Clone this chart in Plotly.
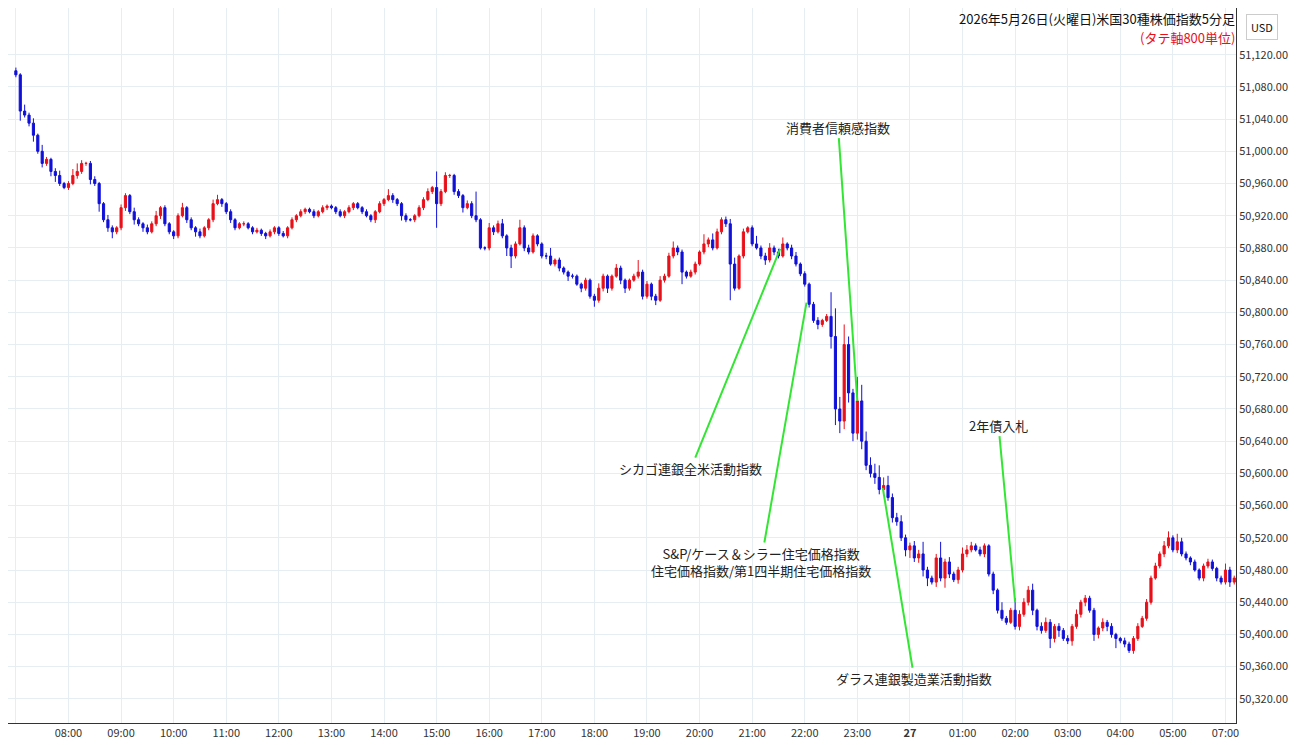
import plotly.graph_objects as go
import pandas as pd

# 5-minute closes, one row per hour (26 May 07:00 -> 27 May 07:10, 06:00-07:00 break)
closes = [
    51095, 51050, 51045, 51035, 51020, 51000, 50985, 50990, 50975, 50970, 50960, 50955,  # 07
    50960, 50970, 50975, 50985, 50985, 50965, 50960, 50935, 50915, 50905, 50900, 50905,  # 08
    50930, 50945, 50925, 50915, 50910, 50905, 50900, 50910, 50920, 50930, 50910, 50900,  # 09
    50895, 50920, 50930, 50915, 50905, 50900, 50895, 50905, 50915, 50935, 50940, 50935,  # 10
    50925, 50915, 50905, 50910, 50910, 50905, 50900, 50902, 50898, 50895, 50900, 50905,  # 11
    50898, 50895, 50905, 50915, 50920, 50925, 50928, 50925, 50920, 50925, 50930, 50932,  # 12
    50930, 50925, 50920, 50925, 50930, 50935, 50930, 50925, 50920, 50915, 50925, 50935,  # 13
    50940, 50945, 50940, 50935, 50920, 50915, 50915, 50920, 50930, 50940, 50950, 50955,  # 14
    50935, 50950, 50970, 50970, 50950, 50945, 50930, 50935, 50920, 50915, 50880, 50880,  # 15
    50905, 50900, 50910, 50895, 50880, 50870, 50885, 50905, 50880, 50875, 50895, 50885,  # 16
    50870, 50870, 50860, 50865, 50855, 50850, 50845, 50845, 50835, 50830, 50840, 50820,  # 17
    50815, 50830, 50845, 50830, 50845, 50855, 50840, 50830, 50840, 50845, 50850, 50820,  # 18
    50835, 50820, 50815, 50840, 50845, 50870, 50880, 50875, 50850, 50845, 50850, 50860,  # 19
    50875, 50885, 50890, 50880, 50900, 50915, 50910, 50860, 50830, 50870, 50900, 50905,  # 20
    50885, 50880, 50870, 50865, 50880, 50875, 50870, 50885, 50880, 50870, 50860, 50848,  # 21
    50835, 50810, 50790, 50785, 50790, 50795, 50770, 50680, 50665, 50760, 50700, 50650,  # 22
    50690, 50640, 50610, 50600, 50595, 50580, 50585, 50570, 50545, 50540, 50520, 50505,  # 23
    50510, 50495, 50500, 50480, 50470, 50465, 50495, 50470, 50490, 50475, 50468, 50480,  # 00
    50500, 50505, 50510, 50505, 50500, 50510, 50475, 50455, 50430, 50420, 50415, 50430,  # 01
    50410, 50425, 50440, 50455, 50430, 50410, 50405, 50415, 50395, 50410, 50405, 50395,  # 02
    50392, 50410, 50425, 50440, 50445, 50430, 50400, 50408, 50415, 50410, 50400, 50395,  # 03
    50392, 50388, 50380, 50395, 50410, 50420, 50440, 50470, 50485, 50500, 50510, 50520,  # 04
    50505, 50515, 50500, 50495, 50490, 50480, 50470, 50485, 50490, 50482, 50470, 50465,  # 05
    50480, 50465, 50470,  # 07
]
first_open = 51100

# wick lengths above / below the body, read per candle
up_wick = [
    4, 2, 8, 3, 6, 2, 8, 3, 2, 4, 6, 2,
    3, 8, 10, 4, 2, 3, 4, 2, 2, 6, 3, 2,
    4, 3, 2, 5, 3, 2, 4, 3, 6, 2, 3, 2,
    2, 3, 6, 2, 3, 2, 4, 2, 2, 5, 6, 2,
    2, 3, 2, 2, 3, 2, 2, 3, 2, 2, 3, 2,
    2, 3, 2, 3, 2, 3, 2, 2, 3, 2, 3, 2,
    2, 2, 3, 2, 3, 2, 2, 2, 3, 2, 2, 3,
    2, 8, 3, 2, 2, 3, 2, 2, 3, 3, 4, 2,
    20, 3, 4, 2, 2, 3, 2, 4, 3, 30, 2, 2,
    6, 3, 4, 6, 2, 4, 3, 10, 3, 4, 3, 2,
    2, 4, 10, 2, 3, 2, 2, 3, 2, 2, 3, 2,
    3, 6, 3, 2, 2, 5, 3, 2, 2, 3, 15, 3,
    4, 2, 3, 5, 3, 4, 8, 3, 3, 2, 3, 3,
    2, 12, 3, 8, 4, 3, 4, 6, 8, 2, 4, 2,
    3, 10, 3, 4, 6, 3, 4, 8, 2, 4, 5, 2,
    3, 2, 3, 4, 2, 3, 30, 35, 15, 25, 10, 5,
    30, 20, 12, 10, 12, 15, 10, 12, 5, 6, 8, 4,
    4, 6, 5, 15, 4, 3, 5, 20, 4, 6, 3, 4,
    8, 6, 5, 3, 4, 3, 2, 3, 2, 10, 3, 3,
    15, 5, 5, 5, 8, 2, 5, 6, 4, 3, 4, 3,
    4, 3, 6, 3, 4, 3, 3, 2, 5, 3, 4, 2,
    2, 4, 3, 3, 4, 3, 4, 3, 4, 3, 6, 8,
    3, 10, 5, 3, 2, 3, 2, 3, 4, 3, 2, 3,
    8, 4, 3,
]
down_wick = [
    3, 12, 3, 4, 8, 3, 5, 3, 6, 8, 3, 2,
    3, 2, 4, 3, 3, 6, 3, 10, 3, 5, 8, 3,
    3, 4, 3, 6, 3, 5, 3, 2, 3, 4, 3, 3,
    4, 3, 2, 4, 3, 6, 3, 2, 3, 3, 2, 4,
    3, 4, 3, 2, 3, 2, 3, 2, 3, 4, 2, 3,
    3, 2, 3, 2, 3, 2, 3, 2, 3, 2, 2, 3,
    2, 3, 2, 3, 2, 3, 2, 3, 2, 3, 4, 2,
    3, 2, 4, 3, 6, 3, 2, 3, 2, 3, 2, 3,
    30, 3, 2, 3, 4, 3, 6, 2, 3, 3, 2, 3,
    3, 4, 2, 3, 10, 15, 3, 2, 4, 3, 2, 3,
    3, 4, 2, 3, 4, 3, 6, 3, 2, 5, 3, 3,
    8, 3, 4, 6, 3, 2, 5, 6, 3, 2, 3, 4,
    3, 5, 6, 2, 3, 2, 3, 4, 15, 3, 2, 3,
    2, 3, 4, 3, 2, 3, 4, 45, 3, 2, 3, 2,
    3, 2, 4, 6, 3, 4, 3, 2, 3, 4, 3, 3,
    3, 4, 3, 6, 3, 2, 15, 20, 15, 10, 12, 10,
    8, 10, 6, 5, 8, 6, 5, 4, 6, 5, 4, 8,
    10, 5, 6, 8, 10, 3, 6, 4, 12, 5, 3, 5,
    3, 4, 3, 2, 3, 4, 3, 5, 4, 3, 3, 2,
    4, 5, 3, 4, 6, 5, 4, 3, 12, 5, 8, 3,
    4, 6, 3, 4, 5, 3, 8, 5, 4, 6, 4, 12,
    3, 4, 3, 4, 3, 2, 3, 3, 2, 3, 4, 3,
    3, 4, 3, 3, 4, 2, 3, 4, 3, 3, 4, 3,
    3, 6, 3,
]

times = list(pd.date_range("2026-05-26 07:00", "2026-05-27 05:55", freq="5min")) + \
        list(pd.date_range("2026-05-27 07:00", periods=3, freq="5min"))
opens = [first_open] + closes[:-1]
highs = [max(o, c) + u for o, c, u in zip(opens, closes, up_wick)]
lows = [min(o, c) - d for o, c, d in zip(opens, closes, down_wick)]

# event markers: (text, tip time, tip value, text time, text value)
events = [
    ("消費者信頼感指数", "2026-05-26 23:00", 50690, "2026-05-26 22:38", 51030),
    ("シカゴ連銀全米活動指数", "2026-05-26 21:32", 50879, "2026-05-26 19:50", 50606),
    ("S&P/ケース＆シラー住宅価格指数<br>住宅価格指数/第1四半期住宅価格指数",
     "2026-05-26 22:02", 50812, "2026-05-26 21:10", 50490),
    ("ダラス連銀製造業活動指数", "2026-05-26 23:29", 50582, "2026-05-27 00:05", 50345),
    ("2年債入札", "2026-05-27 02:00", 50440, "2026-05-27 01:41", 50660),
]

tick_times = list(pd.date_range("2026-05-26 07:00", "2026-05-27 05:00", freq="1h")) + \
             [pd.Timestamp("2026-05-27 07:00")]
tick_text = ["<b>27</b>" if t.hour == 0 else t.strftime("%H:%M") for t in tick_times]
y_ticks = list(range(50320, 51121, 40))

fig = go.Figure(go.Candlestick(
    x=times, open=opens, high=highs, low=lows, close=closes,
    increasing=dict(line=dict(color="#e8101a", width=1), fillcolor="#e8101a"),
    decreasing=dict(line=dict(color="#1010d8", width=1), fillcolor="#1010d8"),
    whiskerwidth=0, showlegend=False,
))

for text, tx, tv, ax, av in events:
    fig.add_annotation(
        x=tx, y=tv, ax=ax, ay=av, axref="x", ayref="y", text=text,
        showarrow=True, arrowhead=0, arrowwidth=2, arrowcolor="#33e633",
        font=dict(size=13, color="#222"), bgcolor="rgba(255,255,255,0)",
    )

fig.add_annotation(x=1, y=1, xref="paper", yref="paper", xanchor="right", yanchor="top",
                   text="2026年5月26日(火曜日)米国30種株価指数5分足", showarrow=False,
                   font=dict(size=13, color="#111"), yshift=0, borderpad=0)
fig.add_annotation(x=1, y=1, xref="paper", yref="paper", xanchor="right", yanchor="top",
                   text="(タテ軸800単位)", showarrow=False,
                   font=dict(size=13, color="#e8101a"), yshift=-19, borderpad=0)
fig.add_annotation(x=1, y=1, xref="paper", yref="paper", xanchor="left", yanchor="top",
                   text="USD", showarrow=False, font=dict(size=11, color="#111"),
                   xshift=10, yshift=-6, bordercolor="#ccc", borderwidth=1, borderpad=4)

fig.update_layout(
    width=1300, height=745, margin=dict(l=0, r=72, t=0, b=30),
    paper_bgcolor="white", plot_bgcolor="white",
    font=dict(family="Noto Sans CJK JP, Noto Sans, sans-serif", size=12, color="#333"),
    xaxis=dict(
        rangeslider=dict(visible=False), range=["2026-05-26 06:51", "2026-05-27 07:12"],
        rangebreaks=[dict(values=["2026-05-27 06:00"], dvalue=3600000)],
        tickvals=tick_times, ticktext=tick_text, gridcolor="#e6eef4",
        showline=True, linecolor="#333", ticks="", tickfont=dict(size=11),
    ),
    yaxis=dict(
        side="right", range=[50290, 51178], tickvals=y_ticks,
        ticktext=[f"{v:,.2f}" for v in y_ticks], gridcolor="#e6eef4",
        showline=True, linecolor="#333", tickfont=dict(size=11),
    ),
)

fig.write_html("out.html")
